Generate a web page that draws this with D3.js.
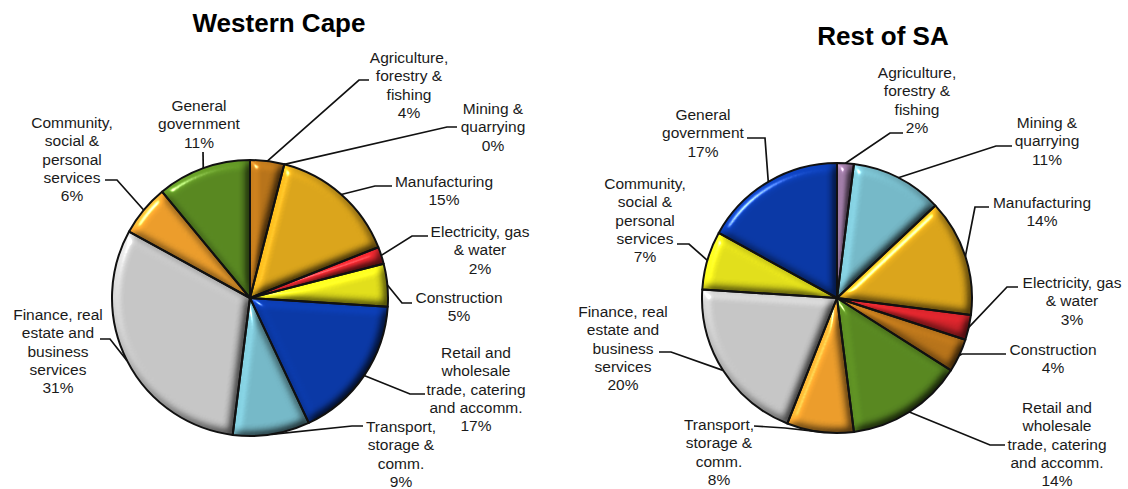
<!DOCTYPE html>
<html>
<head>
<meta charset="utf-8">
<script src="https://cdn.jsdelivr.net/npm/d3@7"></script>
<style>
  html, body { margin: 0; padding: 0; background: #ffffff; }
  svg { display: block; font-family: "Liberation Sans", Arial, sans-serif; }
</style>
</head>
<body>
<svg id="chart" width="1128" height="489"></svg>
<script>
// Sector names, split into the lines used for the slice labels
const sectorLabels = [
  ["Agriculture,", "forestry &", "fishing"],
  ["Mining &", "quarrying"],
  ["Manufacturing"],
  ["Electricity, gas", "& water"],
  ["Construction"],
  ["Retail and", "wholesale", "trade, catering", "and accomm."],
  ["Transport,", "storage &", "comm."],
  ["Finance, real", "estate and", "business", "services"],
  ["Community,", "social &", "personal", "services"],
  ["General", "government"]
];

// Share of output by sector (%)
const westernCapeShares = [4, 0, 15, 2, 5, 17, 9, 31, 6, 11];
const restOfSAShares    = [2, 11, 14, 3, 4, 14, 8, 20, 7, 17];

const chartTitles = ["Western Cape", "Rest of SA"];

// Slice colours, per sector, for each region
const westernCapeColours = ["#bb761b", "#78bccb", "#dfa81c", "#d4242b", "#e6e31c",
                            "#0b3aa9", "#78bccb", "#c9c9c9", "#f0a02d", "#5a8a22"];
const restOfSAColours    = ["#94739a", "#78bccb", "#dfa81c", "#d4242b", "#bb761b",
                            "#5a8a22", "#f0a02d", "#c9c9c9", "#e6e31c", "#0b3aa9"];

// Placement of each pie, its title and its callout labels
const layouts = [
  {
    cx: 250, cy: 298, r: 138,
    title: [279, 32],
    labels: [[409, 63], [493, 114], [444, 187], [480, 237], [459, 303],
             [476, 358], [401, 432], [58, 320], [72, 128], [199, 111]],
    leaders: [[[369, 80], [359, 80]], [[457, 127], [447, 127]], [[392, 186], [375, 186]],
              [[428, 236], [412, 236]], [[412, 303], [402, 303]], [[425, 394], [410, 394]],
              [[363, 426], [352, 426]], [[100, 339], [110, 339]], [[105, 180], [117, 180]],
              [[203, 152], [203, 152]]]
  },
  {
    cx: 837, cy: 298, r: 135,
    title: [883, 45],
    labels: [[917, 78], [1047, 128], [1042, 208], [1072, 288], [1053, 355],
             [1057, 413], [719, 430], [623, 317], [645, 189], [703, 120]],
    leaders: [[[903, 133], [890, 133]], [[1012, 146], [996, 146]], [[989, 207], [975, 207]],
              [[1018, 287], [1007, 287]], [[1006, 354], [962, 354]], [[1005, 445], [990, 445]],
              [[754, 426], [785, 428]], [[659, 352], [671, 352]], [[677, 244], [689, 244]],
              [[747, 138], [765, 138]]]
  }
];

const svg = d3.select("#chart");
const lineHeight = 18.3;

// Soft bevel on every slice: lit from the upper left, shaded on the lower right
const defs = svg.append("defs");
const bevel = defs.append("filter")
  .attr("id", "bevel")
  .attr("x", "-30%").attr("y", "-30%")
  .attr("width", "160%").attr("height", "160%")
  .attr("color-interpolation-filters", "sRGB");
bevel.append("feGaussianBlur")
  .attr("in", "SourceAlpha").attr("stdDeviation", 5).attr("result", "blur");
bevel.append("feDiffuseLighting")
  .attr("in", "blur").attr("surfaceScale", 5).attr("diffuseConstant", 1)
  .attr("lighting-color", "#ffffff").attr("result", "diff")
  .append("feDistantLight").attr("azimuth", 225).attr("elevation", 55);
bevel.append("feComposite")
  .attr("in", "SourceGraphic").attr("in2", "diff")
  .attr("operator", "arithmetic")
  .attr("k1", 1.2).attr("k2", 0).attr("k3", 0).attr("k4", 0)
  .attr("result", "lit");
bevel.append("feSpecularLighting")
  .attr("in", "blur").attr("surfaceScale", 5).attr("specularConstant", 0.7)
  .attr("specularExponent", 128).attr("lighting-color", "#ffffff").attr("result", "spec")
  .append("feDistantLight").attr("azimuth", 225).attr("elevation", 40);
bevel.append("feComposite")
  .attr("in", "spec").attr("in2", "SourceAlpha").attr("operator", "in").attr("result", "specIn");
bevel.append("feComposite")
  .attr("in", "lit").attr("in2", "specIn").attr("operator", "arithmetic")
  .attr("k1", 0).attr("k2", 1).attr("k3", 1).attr("k4", 0).attr("result", "out");
bevel.append("feComposite")
  .attr("in", "out").attr("in2", "SourceAlpha").attr("operator", "in");

const regions = [
  { title: chartTitles[0], shares: westernCapeShares, colours: westernCapeColours, layout: layouts[0] },
  { title: chartTitles[1], shares: restOfSAShares, colours: restOfSAColours, layout: layouts[1] }
];

regions.forEach(region => {
  const L = region.layout;
  const data = region.shares.map((share, i) => ({
    share, lines: sectorLabels[i], colour: region.colours[i], index: i
  }));

  const pie = d3.pie().sort(null).value(d => d.share).startAngle(0).endAngle(2 * Math.PI);
  const arcs = pie(data);
  const arc = d3.arc().innerRadius(0).outerRadius(L.r);

  const g = svg.append("g").attr("transform", `translate(${L.cx},${L.cy})`);

  // Filled, bevelled slices
  g.selectAll("path.slice")
    .data(arcs.filter(a => a.data.share > 0))
    .join("path")
    .attr("class", "slice")
    .attr("d", arc)
    .attr("fill", d => d.data.colour)
    .attr("filter", "url(#bevel)");

  // Slice outlines
  g.selectAll("path.outline")
    .data(arcs.filter(a => a.data.share > 0))
    .join("path")
    .attr("class", "outline")
    .attr("d", arc)
    .attr("fill", "none")
    .attr("stroke", "#111")
    .attr("stroke-width", 2)
    .attr("stroke-linejoin", "round");

  // Leader lines from each label to the rim of its slice
  const line = d3.line();
  svg.append("g")
    .selectAll("path")
    .data(arcs)
    .join("path")
    .attr("d", d => {
      const mid = (d.startAngle + d.endAngle) / 2;
      const rim = [L.cx + L.r * Math.sin(mid), L.cy - L.r * Math.cos(mid)];
      const [start, elbow] = L.leaders[d.data.index];
      return line([start, elbow, rim]);
    })
    .attr("fill", "none")
    .attr("stroke", "#111")
    .attr("stroke-width", 1.7);

  // Callout labels: sector name and share
  svg.append("g")
    .selectAll("text")
    .data(arcs)
    .join("text")
    .attr("text-anchor", "middle")
    .attr("font-size", 15.5)
    .attr("fill", "#1a1a1a")
    .each(function (d) {
      const [x, y] = L.labels[d.data.index];
      const lines = d.data.lines.concat([`${d.data.share}%`]);
      d3.select(this).selectAll("tspan")
        .data(lines)
        .join("tspan")
        .attr("x", x)
        .attr("y", (t, k) => y + k * lineHeight)
        .text(t => t);
    });

  // Chart title
  svg.append("text")
    .attr("x", L.title[0])
    .attr("y", L.title[1])
    .attr("text-anchor", "middle")
    .attr("font-size", 26)
    .attr("font-weight", "bold")
    .attr("fill", "#000")
    .text(region.title);
});
</script>
</body>
</html>
